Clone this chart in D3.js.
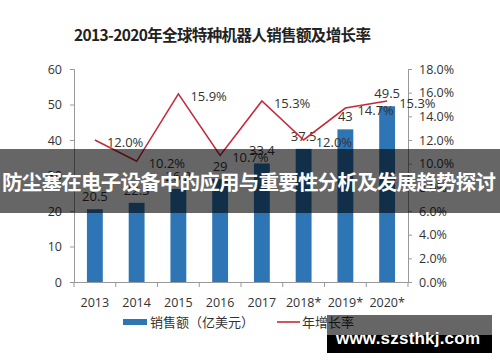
<!DOCTYPE html>
<html>
<head>
<meta charset="utf-8">
<script src="https://cdn.jsdelivr.net/npm/d3@7/dist/d3.min.js"></script>
<style>
  body { margin: 0; background: #fff; }
  svg text { font-family: "Open Sans", "Noto Sans CJK SC", sans-serif; }
</style>
</head>
<body>
<svg id="chart"></svg>
<script>
// 2013-2020 全球特种机器人销售额及增长率
var years = ["2013", "2014", "2015", "2016", "2017", "2018*", "2019*", "2020*"];
var sales = [20.5, 22.3, 26.2, 29, 33.4, 37.5, 43, 49.5];      // 亿美元
var growth = [12.0, 10.2, 15.9, 10.7, 15.3, 12.0, 14.7, 15.3];  // %
var leftTicks = [0, 10, 20, 30, 40, 50, 60];
var rightTicks = [0, 2, 4, 6, 8, 10, 12, 14, 16, 18];

var width = 500;
var height = 362;

var svg = d3.select("svg#chart")
    .attr("width", width)
    .attr("height", height);

var data = years.map(function(d, i) {
    return { year: d, sales: sales[i], growth: growth[i] };
});

var x = d3.scaleBand()
    .domain(years)
    .range([74, 408])
    .paddingInner(0.62)
    .paddingOuter(0.31);

var yL = d3.scaleLinear().domain([0, 60]).range([282, 69]);
var yR = d3.scaleLinear().domain([0, 18]).range([282, 69]);

// title
svg.append("text")
    .attr("x", 74)
    .attr("y", 41)
    .attr("font-size", 15.5)
    .attr("font-weight", "bold")
    .attr("fill", "#222")
    .attr("textLength", 297)
    .style("font-family", "'Noto Sans CJK SC', sans-serif")
    .text("2013-2020年全球特种机器人销售额及增长率");

// axes
var axL = svg.append("g")
    .attr("transform", "translate(74,0)")
    .call(d3.axisLeft(yL).tickValues(leftTicks).tickSize(4).tickPadding(8));

var axR = svg.append("g")
    .attr("transform", "translate(408,0)")
    .call(d3.axisRight(yR).tickValues(rightTicks).tickSize(4).tickPadding(7)
        .tickFormat(function(d) { return d.toFixed(1) + "%"; }));

var axB = svg.append("g")
    .attr("transform", "translate(0,282)")
    .call(d3.axisBottom(x).tickSize(0).tickPadding(16));

// x ticks at band boundaries
var step = x.step();
svg.append("g").selectAll("line")
    .data(d3.range(years.length + 1))
    .enter()
    .append("line")
    .attr("x1", function(d) { return 74 + d * step; })
    .attr("x2", function(d) { return 74 + d * step; })
    .attr("y1", 282)
    .attr("y2", 287)
    .attr("stroke", "#999");

[axL, axR, axB].forEach(function(g) {
    g.select(".domain").attr("stroke", "#999");
    g.selectAll(".tick line").attr("stroke", "#999");
    g.selectAll(".tick text").attr("fill", "#333").attr("font-size", 12.5);
});
axB.selectAll(".tick text").attr("font-size", 12.5);

// bars
svg.append("g").selectAll("rect.bar")
    .data(data)
    .enter()
    .append("rect")
    .attr("class", "bar")
    .attr("x", function(d) { return x(d.year); })
    .attr("y", function(d) { return yL(d.sales); })
    .attr("width", x.bandwidth())
    .attr("height", function(d) { return yL(0) - yL(d.sales); })
    .attr("fill", "#2e75b6");

svg.append("g").selectAll("text")
    .data(data)
    .enter()
    .append("text")
    .attr("x", function(d) { return x(d.year) + x.bandwidth() / 2; })
    .attr("y", function(d) { return yL(d.sales) - 8; })
    .attr("text-anchor", "middle")
    .attr("font-size", 13)
    .attr("fill", "#333")
    .text(function(d) { return d.sales; });

// growth line
var line = d3.line()
    .x(function(d) { return x(d.year) + x.bandwidth() / 2; })
    .y(function(d) { return yR(d.growth); });

svg.append("path")
    .datum(data)
    .attr("d", line)
    .attr("fill", "none")
    .attr("stroke", "#c42a3c")
    .attr("stroke-width", 1.6);

svg.append("g").selectAll("text")
    .data(data)
    .enter()
    .append("text")
    .attr("x", function(d) { return x(d.year) + x.bandwidth() / 2 + 12; })
    .attr("y", function(d) { return yR(d.growth) + 7; })
    .attr("font-size", 13)
    .attr("fill", "#333")
    .text(function(d) { return d.growth.toFixed(1) + "%"; });

// legend
var lg = svg.append("g");
lg.append("rect")
    .attr("x", 123).attr("y", 319).attr("width", 24).attr("height", 6)
    .attr("fill", "#2e75b6");
lg.append("text")
    .attr("x", 150).attr("y", 327)
    .attr("font-size", 13).attr("fill", "#333")
    .style("font-family", "'Noto Sans CJK SC', sans-serif")
    .text("销售额（亿美元）");
lg.append("line")
    .attr("x1", 277).attr("x2", 300).attr("y1", 322).attr("y2", 322)
    .attr("stroke", "#c42a3c").attr("stroke-width", 1.6);
lg.append("text")
    .attr("x", 302).attr("y", 327)
    .attr("font-size", 13).attr("fill", "#333")
    .style("font-family", "'Noto Sans CJK SC', sans-serif")
    .text("年增长率");

// banner overlay
svg.append("rect")
    .attr("x", 0).attr("y", 149).attr("width", width).attr("height", 64)
    .attr("fill", "rgba(0,0,0,0.6)");
svg.append("text")
    .attr("x", 249).attr("y", 190)
    .attr("text-anchor", "middle")
    .attr("font-size", 20.5)
    .attr("font-weight", "bold")
    .attr("fill", "#fff")
    .attr("textLength", 494)
    .style("font-family", "'Noto Sans CJK SC', sans-serif")
    .text("防尘塞在电子设备中的应用与重要性分析及发展趋势探讨");

// watermark
svg.append("rect")
    .attr("x", 327).attr("y", 315).attr("width", 165).attr("height", 20)
    .attr("fill", "rgba(0,0,0,0.6)");
svg.append("rect")
    .attr("x", 327).attr("y", 335).attr("width", 165).attr("height", 18)
    .attr("fill", "#000");
svg.append("text")
    .attr("x", 336).attr("y", 344)
    .attr("font-size", 17)
    .attr("font-weight", "bold")
    .attr("fill", "#fff")
    .attr("textLength", 144)
    .style("font-family", "'Liberation Sans', Arial, sans-serif")
    .text("www.szsthkj.com");
</script>
</body>
</html>
